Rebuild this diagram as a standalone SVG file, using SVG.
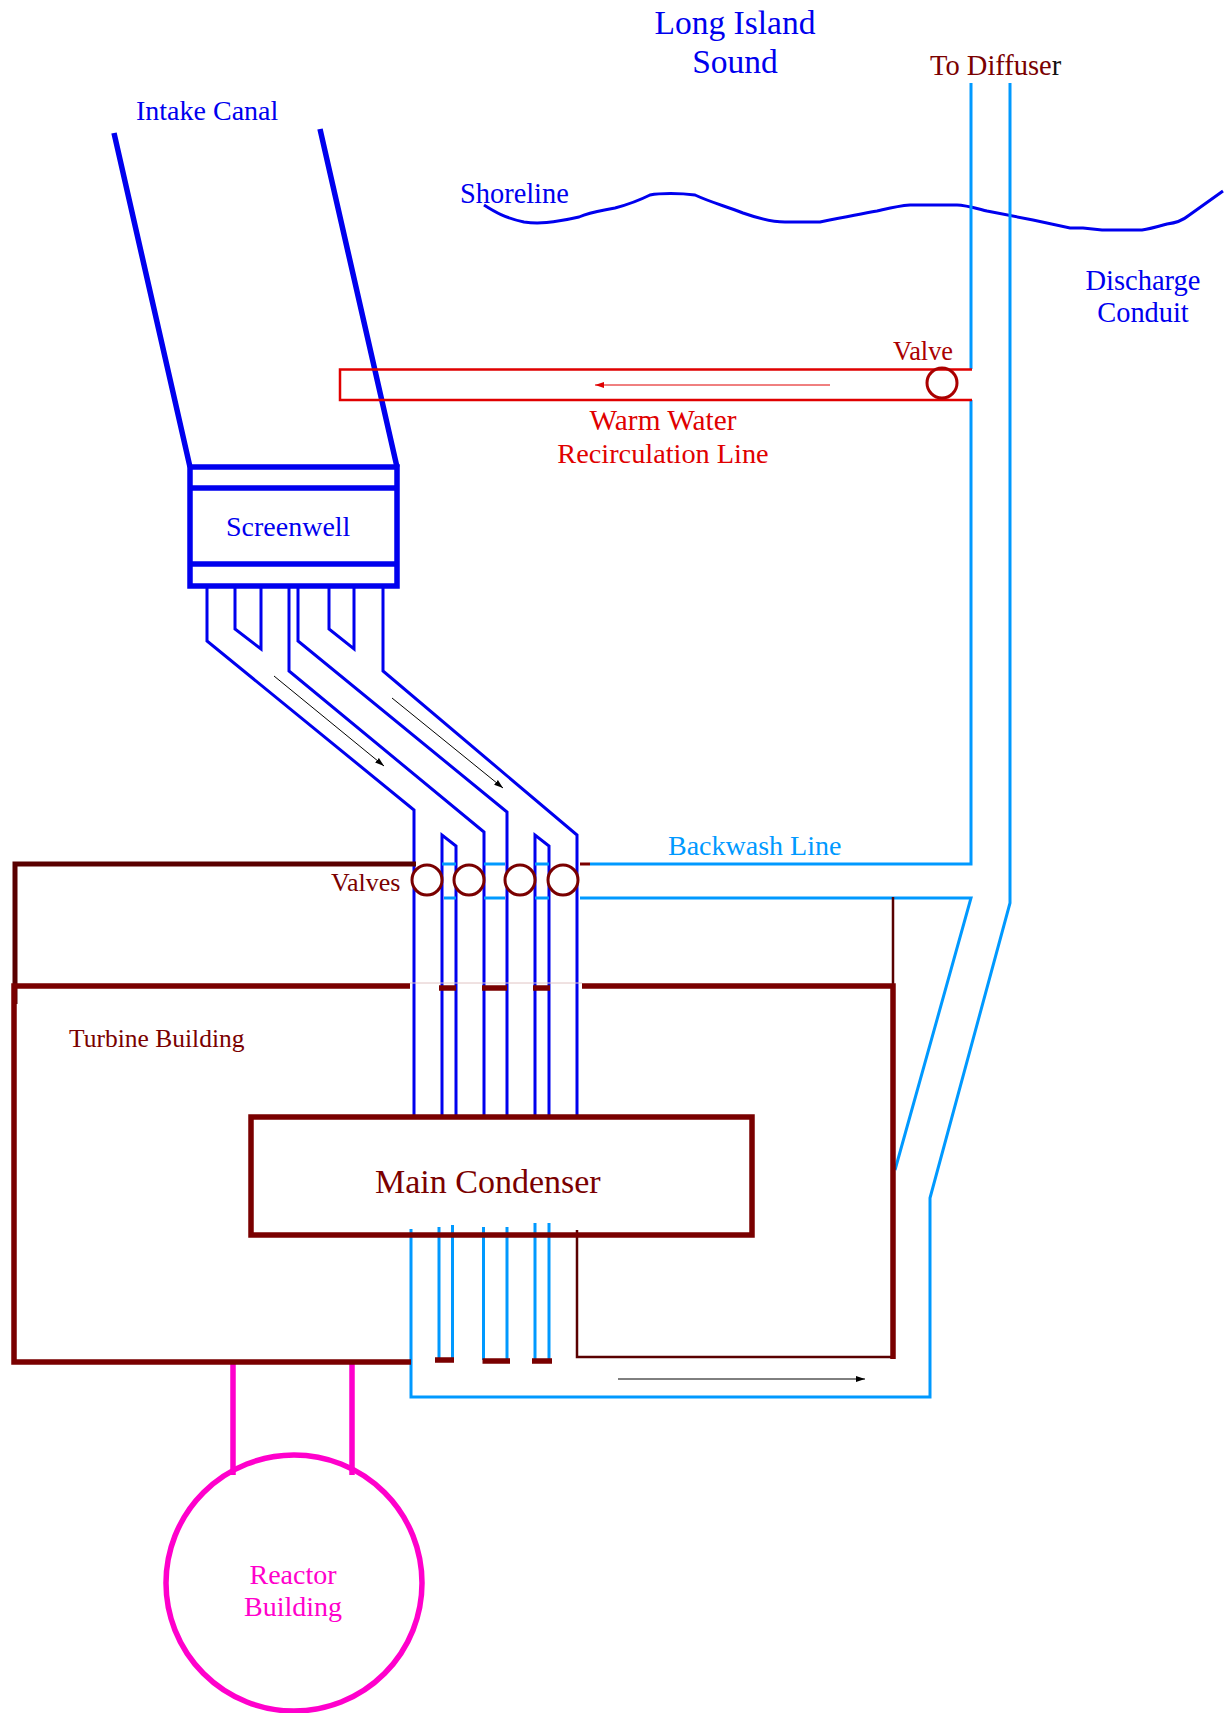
<svg xmlns="http://www.w3.org/2000/svg" width="1228" height="1713" viewBox="0 0 1228 1713">
<style>
text{font-family:"Liberation Serif","Times New Roman",serif}
.m{text-anchor:middle}
path,line,circle,rect{fill:none}
.b{stroke:#0000ee;stroke-width:3}
.bb{stroke:#0000ee;stroke-width:5.500}
.l{stroke:#0099ff;stroke-width:3}
.w{stroke:#7a0000;stroke-width:5.500}
.d{stroke:#5a0000;stroke-width:5}
.t{stroke:#5a0000;stroke-width:2.500}
.v{stroke:#7a0000;stroke-width:3;fill:#fff}
.r{stroke:#e00000;stroke-width:2.500}
.g{stroke:#ff00cc;stroke-width:5.500}
.tb{fill:#0000ee}.tw{fill:#7a0000}.tr{fill:#e00000}.tl{fill:#0099ff}.tg{fill:#ff00cc}
</style>
<defs>
<marker id="ak" markerUnits="userSpaceOnUse" markerWidth="9" markerHeight="6" refX="9" refY="3" orient="auto"><path d="M0 0L9 3L0 6Z" style="fill:#000"/></marker>
<marker id="ar" markerUnits="userSpaceOnUse" markerWidth="9" markerHeight="6" refX="9" refY="3" orient="auto"><path d="M0 0L9 3L0 6Z" style="fill:#e00000"/></marker>
</defs>
<rect width="1228" height="1713" style="fill:#fff"/>

<g id="labels-water">
<text class="tb m" x="735" y="34" font-size="33.500">Long Island</text>
<text class="tb m" x="735" y="73" font-size="33.500">Sound</text>
<text class="tb" x="136" y="120" font-size="28">Intake Canal</text>
<text class="tb" x="460" y="203" font-size="28.400">Shoreline</text>
<text class="tb m" x="1143" y="290" font-size="28.500">Discharge</text>
<text class="tb m" x="1143" y="322" font-size="28.400">Conduit</text>
<text class="tw" x="930" y="75" font-size="28.500">To Diffuse<tspan fill="#111">r</tspan></text>
</g>

<g id="shoreline">
<path class="b" d="M484 205C495 212 505 218 524 222C538 224 552 223 579 217C590 212 600 211 615 208C630 204 638 201 650 195C660 193 680 193 695 195C710 202 725 206 743 213C760 219 772 222 785 222L820 222C840 218 860 214 877 211C890 208 897 206 910 205L957 205C965 205 975 208 987 211L1033 220L1070 228L1083 228L1102 230L1142 230C1150 229 1160 226 1167 224C1175 223 1182 221 1188 216L1223 191"/>
</g>

<g id="connectors">
<path class="bb" d="M114 133L190 467M320 129L397 467"/>
<g id="intake-pipes">
<path class="b" d="M207 586V641L414 810V1118"/>
<path class="b" d="M235 586V629L261 649V586"/>
<path class="b" d="M289 586V671L484 832V1118"/>
<path class="b" d="M298 586V641L507 812V1118"/>
<path class="b" d="M329 586V629L354 649V586"/>
<path class="b" d="M383 586V671L577 835V1118"/>
<path class="b" d="M442 1116V835L456 846V1116"/>
<path class="b" d="M535 1116V835L549 846V1116"/>
</g>
<g id="discharge">
<path class="l" d="M971 83V369M971 400V864H590"/>
<path class="l" d="M1010 83V903L930 1198V1397H411V1229"/>
<path class="l" d="M580 898H971L895 1170"/>
<path class="l" d="M442 864H456M484 864H505M535 864H549M444 898H456M484 898H505M535 898H549"/>
<path class="l" d="M439 1227V1358M452.500 1225V1358M483.500 1227V1360M507 1227V1360M535 1223V1360M549 1223V1360"/>
<path d="M580 864H590" style="stroke:#7a0000;stroke-width:3"/>
<path class="t" d="M577 1230V1357H893M893 897V986"/>
</g>
<g id="recirculation">
<path class="r" d="M972 369.500H340V400H972"/>
<line x1="830" y1="385" x2="595" y2="385" stroke="#e00000" stroke-width="1" marker-end="url(#ar)"/>
</g>
<g id="magenta-links">
<path class="g" d="M233 1360V1475M352 1360V1475"/>
</g>
<g id="flow-arrows">
<line x1="274" y1="676" x2="384" y2="766" stroke="#000" stroke-width="1" marker-end="url(#ak)"/>
<line x1="392" y1="698" x2="503" y2="788" stroke="#000" stroke-width="1" marker-end="url(#ak)"/>
<line x1="618" y1="1379" x2="865" y2="1379" stroke="#000" stroke-width="1" marker-end="url(#ak)"/>
</g>
</g>

<g id="screenwell">
<path class="bb" d="M190 467H397V586H190ZM190 488H397M190 564H397"/>
<text class="tb" x="226" y="536" font-size="28">Screenwell</text>
</g>

<g id="turbine-building">
<path class="d" d="M416 864H15V1004"/>
<path class="w" d="M410 986H14V1362H411M582 986H893V1359"/>
<path class="w" d="M439 988H456M482 988H507M533 988H550M435 1360H454M482.500 1361H510M532 1361H552"/>
<path d="M410 983H582" style="stroke:#e0c4c4;stroke-width:1"/>
<text class="tw" x="69" y="1047" font-size="25.500">Turbine Building</text>
</g>

<g id="main-condenser">
<rect class="w" x="251" y="1117" width="501" height="118"/>
<text class="tw" x="375" y="1193" font-size="34">Main Condenser</text>
</g>

<g id="valves">
<circle class="v" cx="427" cy="880" r="15"/>
<circle class="v" cx="469" cy="880" r="15"/>
<circle class="v" cx="520" cy="880" r="15"/>
<circle class="v" cx="563" cy="880" r="15"/>
<text class="tw" x="331" y="891" font-size="26">Valves</text>
</g>
<g id="recirc-valve">
<circle class="v" style="stroke:#aa0000;fill:none" cx="942" cy="383" r="15"/>
<text fill="#aa0000" x="893" y="360" font-size="26.400">Valve</text>
</g>

<g id="reactor-building">
<circle class="g" cx="294" cy="1583" r="128"/>
<text class="tg m" x="293" y="1584" font-size="28">Reactor</text>
<text class="tg m" x="293" y="1616" font-size="28">Building</text>
</g>

<text class="tl" x="668" y="855" font-size="28">Backwash Line</text>
<text class="tr m" x="663" y="430" font-size="29.300">Warm Water</text>
<text class="tr m" x="663" y="463" font-size="28.300">Recirculation Line</text>
</svg>
